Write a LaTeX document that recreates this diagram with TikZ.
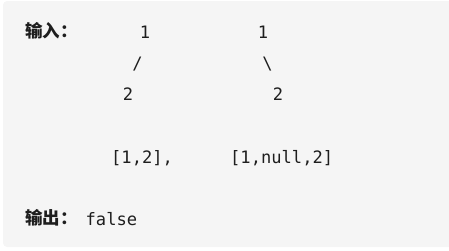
\documentclass[tikz,border=0pt]{standalone}
\usepackage{fontspec}
\setmonofont{DejaVu Sans Mono}
\newfontfamily\cjk{Noto Sans CJK SC}

\definecolor{panelgray}{HTML}{F5F5F5}
\definecolor{ink}{HTML}{1E1E1E}

\tikzset{
  mono/.style={font=\ttfamily\fontsize{17.1}{20}\selectfont, text=ink, inner sep=0pt, anchor=base},
  monoleft/.style={mono, anchor=base west},
  heading/.style={font=\cjk\bfseries\fontsize{17.5}{20}\selectfont, text=ink, inner sep=0pt, anchor=base west}
}

\begin{document}
\begin{tikzpicture}[x=1pt, y=-1pt]
    \useasboundingbox (0,0) rectangle (449,250);

    % Grey panel (runs off the right edge)
    \fill[panelgray, rounded corners=4pt] (3,1) rectangle (460,247);

    % Input label
    \node[heading] (inlabel) at (25,37) {输入：};

    % Left tree: 1 with left child 2
    \node[mono] (lroot)  at (145,38)  {1};
    \node[mono] (lslash) at (137.5,69) {/};
    \node[mono] (lchild) at (128,100) {2};

    % Right tree: 1 with right child 2
    \node[mono] (rroot)  at (263,38)  {1};
    \node[mono] (rslash) at (267.5,69) {\textbackslash};
    \node[mono] (rchild) at (278,100) {2};

    % Array forms
    \node[monoleft] (larray) at (111,163) {[1,2],};
    \node[monoleft] (rarray) at (230,163) {[1,null,2]};

    % Output
    \node[heading] (outlabel) at (25,224) {输出：};
    \node[monoleft] (result) at (85.5,225) {false};
\end{tikzpicture}
\end{document}
